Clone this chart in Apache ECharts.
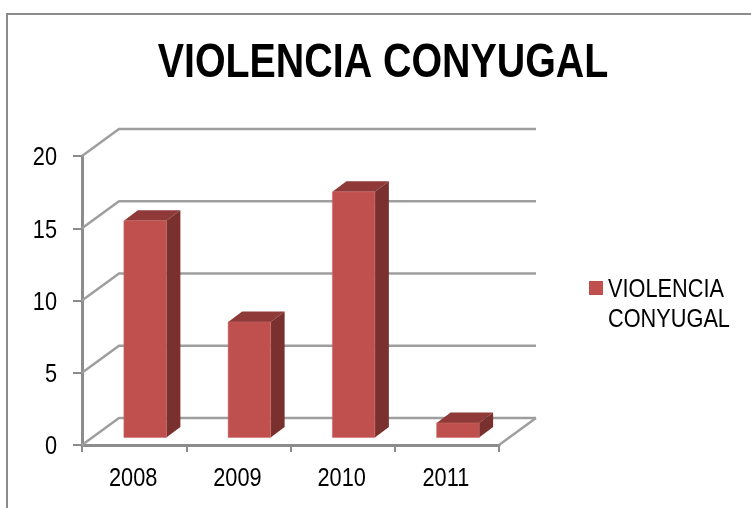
<!DOCTYPE html>
<html>
<head>
<meta charset="utf-8">
<style>html,body{margin:0;padding:0;background:#fff}#chart{width:751px;height:508px}</style>
<script src="https://cdn.jsdelivr.net/npm/echarts@6/dist/echarts.min.js"></script>
</head>
<body>
<div id="chart"></div>
<script>
var titleText = 'VIOLENCIA CONYUGAL';
var seriesName = 'VIOLENCIA CONYUGAL';
var years = ['2008', '2009', '2010', '2011'];
var counts = [15, 8, 17, 1];
var yTicks = [0, 5, 10, 15, 20];

var fontName = '"Liberation Sans", Arial, sans-serif';
var axisGrey = '#8c8c8c';
var wallGrey = '#9e9e9e';
// the original text is a condensed face, squeeze Liberation to match
var squeeze = 0.82;

// fake 3d: back wall is shifted by this much from the axis plane
var wallDx = 37, wallDy = -27;
// bars stand between the axis plane and the wall
var barDx = 11, barDy = -7.5, barW = 42.5, depthX = 14, depthY = -10.5;

function squeezedText(str, x, y, align, size, weight) {
    return {
        type: 'text',
        x: x,
        y: y,
        scaleX: squeeze,
        style: {
            text: str,
            align: align,
            verticalAlign: 'middle',
            fontFamily: fontName,
            fontSize: size,
            fontWeight: weight || 'normal',
            lineHeight: 30,
            fill: '#000'
        }
    };
}

function renderWall(params, api) {
    var cs = params.coordSys;
    var p = api.coord([years[0], api.value(0)]);
    var left = cs.x, right = cs.x + cs.width, y = p[1];
    var lineStyle = {stroke: wallGrey, lineWidth: 2.4, fill: null};
    var kids = [{
        type: 'polyline',
        shape: {points: [[left, y], [left + wallDx, y + wallDy], [right + wallDx, y + wallDy]]},
        style: lineStyle
    }, squeezedText(String(api.value(0)), left - 25, y + 2, 'right', 26.5)];
    if (api.value(0) === 0) {
        kids.push({
            type: 'line',
            shape: {x1: right, y1: y, x2: right + wallDx, y2: y + wallDy},
            style: lineStyle
        });
    }
    return {type: 'group', children: kids};
}

function renderBar(params, api) {
    var top = api.coord([api.value(0), api.value(1)]);
    var base = api.coord([api.value(0), 0]);
    var x0 = top[0] - barW / 2 + barDx, x1 = x0 + barW;
    var y0 = top[1] + barDy, y1 = base[1] + barDy;
    return {
        type: 'group',
        children: [{
            type: 'polygon',
            shape: {points: [[x0, y0], [x0 + depthX, y0 + depthY], [x1 + depthX, y0 + depthY], [x1, y0]]},
            style: {fill: '#8f3a38'}
        }, {
            type: 'polygon',
            shape: {points: [[x1, y0], [x1 + depthX, y0 + depthY], [x1 + depthX, y1 + depthY], [x1, y1]]},
            style: {fill: '#7a302e'}
        }, {
            type: 'rect',
            shape: {x: x0, y: y0, width: barW, height: y1 - y0},
            style: {fill: '#bf504d', stroke: '#c96b68', lineWidth: 0.5}
        }, squeezedText(years[params.dataIndex], top[0] - 1, base[1] + 34, 'center', 26.5)]
    };
}

var myChart = echarts.init(document.getElementById('chart'), null, {renderer: 'canvas'});
var option = {
    animation: false,
    backgroundColor: '#fff',
    legend: {
        left: 589,
        top: 281,
        padding: 0,
        itemGap: 0,
        itemWidth: 14,
        itemHeight: 14,
        icon: 'rect',
        data: [seriesName],
        formatter: function () { return ''; }
    },
    grid: {left: 82, right: 252, top: 156, bottom: 63},
    xAxis: {
        type: 'category',
        data: years,
        axisLine: {lineStyle: {color: axisGrey, width: 3}},
        axisTick: {show: true, length: 7, alignWithLabel: false, lineStyle: {color: axisGrey, width: 2}},
        axisLabel: {show: false},
        splitLine: {show: false}
    },
    yAxis: {
        type: 'value',
        min: 0,
        max: 20,
        interval: 5,
        axisLine: {show: true, lineStyle: {color: axisGrey, width: 3}},
        axisTick: {show: true, length: 9, lineStyle: {color: axisGrey, width: 2}},
        axisLabel: {show: false},
        splitLine: {show: false}
    },
    series: [{
        name: 'wall',
        type: 'custom',
        coordinateSystem: 'cartesian2d',
        clip: false,
        silent: true,
        encode: {y: 0},
        data: yTicks.map(function (v) { return [v]; }),
        renderItem: renderWall,
        z: 1
    }, {
        name: seriesName,
        type: 'custom',
        coordinateSystem: 'cartesian2d',
        clip: false,
        encode: {x: 0, y: 1},
        itemStyle: {color: '#bf504d'},
        data: years.map(function (y, i) { return [y, counts[i]]; }),
        renderItem: renderBar,
        z: 3
    }],
    graphic: [{
        type: 'polyline',
        shape: {points: [[7, 508], [7, 14], [751, 14]]},
        style: {stroke: '#8c8c8c', lineWidth: 2, fill: null},
        silent: true
    },
    squeezedText(titleText, 383, 64, 'center', 48, 'bold'),
    squeezedText('VIOLENCIA\nCONYUGAL', 608, 305, 'left', 26.5)
    ]
};
myChart.setOption(option);
</script>
</body>
</html>
